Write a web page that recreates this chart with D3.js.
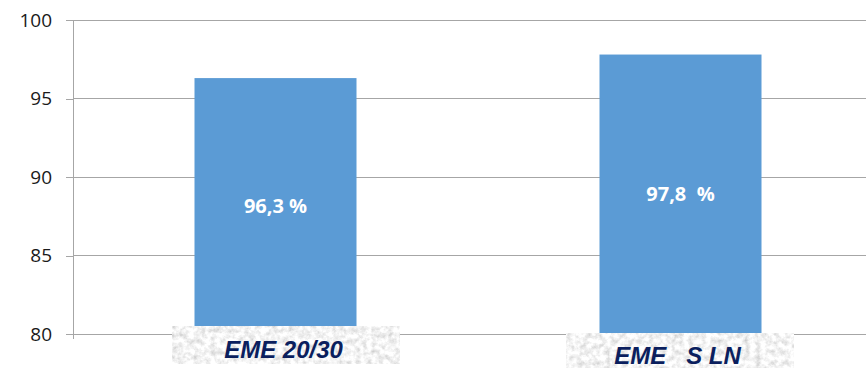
<!DOCTYPE html>
<html>
<head>
<meta charset="utf-8">
<script src="https://cdn.jsdelivr.net/npm/d3@7/dist/d3.min.js"></script>
<style>
  html, body { margin: 0; padding: 0; background: #fff; }
  svg { display: block; }
</style>
</head>
<body>
<svg id="chart" width="866" height="368"></svg>
<script>
// Chart data
const categories = ["EME 20/30", "EME\u00a0\u00a0\u00a0S LN"];
const values = [96.3, 97.8];
const valueLabels = ["96,3 %", "97,8\u00a0\u00a0%"];
const yTicks = [80, 85, 90, 95, 100];

const svg = d3.select("#chart");

const x = d3.scaleBand()
  .domain(categories)
  .range([73, 883])
  .paddingInner(0.6)
  .paddingOuter(0.3);

const y = d3.scaleLinear()
  .domain([80, 100])
  .range([334, 20]);

// Granite-like texture for the category tags
const defs = svg.append("defs");
const f = defs.append("filter")
  .attr("id", "granite")
  .attr("x", 0).attr("y", 0).attr("width", 1).attr("height", 1);
f.append("feTurbulence")
  .attr("type", "fractalNoise")
  .attr("baseFrequency", 0.18)
  .attr("numOctaves", 4)
  .attr("seed", 11)
  .attr("result", "noise");
f.append("feColorMatrix")
  .attr("in", "noise")
  .attr("type", "matrix")
  .attr("values", "0.7 0 0 0 0.55  0.7 0 0 0 0.55  0.7 0 0 0 0.55  0 0 0 0 1")
  .attr("result", "grey");
f.append("feColorMatrix")
  .attr("in", "grey")
  .attr("type", "saturate")
  .attr("values", 0);

// Gridlines
svg.append("g")
  .selectAll("line")
  .data(yTicks)
  .join("line")
  .attr("x1", 73).attr("x2", 866)
  .attr("y1", d => y(d)).attr("y2", d => y(d))
  .attr("stroke", "#a6a6a6")
  .attr("stroke-width", 1)
  .attr("shape-rendering", "crispEdges");

// Y axis
const yAxis = svg.append("g")
  .attr("transform", "translate(73,0)")
  .call(d3.axisLeft(y).tickValues(yTicks).tickSize(7).tickPadding(14).tickFormat(d3.format("d")));
yAxis.select(".domain").attr("stroke", "#a6a6a6").attr("d", `M0,${y(100)}V${y(80) + 5}`);
yAxis.selectAll(".tick line").attr("stroke", "#a6a6a6");
yAxis.selectAll(".tick text")
  .attr("fill", "#1a1a1a")
  .style("font-family", "'Open Sans', 'Liberation Sans', sans-serif")
  .style("font-size", "19px");
yAxis.attr("shape-rendering", "crispEdges");

// Bars
svg.append("g")
  .selectAll("rect")
  .data(values)
  .join("rect")
  .attr("x", (d, i) => x(categories[i]))
  .attr("width", x.bandwidth())
  .attr("y", d => y(d))
  .attr("height", d => y(80) - y(d))
  .attr("fill", "#5b9bd5");

// Value labels centered in the bars
svg.append("g")
  .selectAll("text")
  .data(values)
  .join("text")
  .attr("x", (d, i) => x(categories[i]) + x.bandwidth() / 2)
  .attr("y", d => (y(d) + y(80)) / 2 + 7)
  .attr("text-anchor", "middle")
  .attr("fill", "#ffffff")
  .style("font-family", "'Open Sans', 'Liberation Sans', sans-serif")
  .style("font-weight", "bold")
  .style("font-size", "20px")
  .text((d, i) => valueLabels[i]);

// Category tags
const tagOffsets = [{ dx: -103, top: 326, h: 38, base: 358 }, { dx: -114, top: 333, h: 36, base: 364 }];
const tags = svg.append("g")
  .selectAll("g")
  .data(categories)
  .join("g");
tags.append("rect")
  .attr("x", (d, i) => x(d) + x.bandwidth() / 2 + tagOffsets[i].dx)
  .attr("y", (d, i) => tagOffsets[i].top)
  .attr("width", 227)
  .attr("height", (d, i) => tagOffsets[i].h)
  .attr("fill", "#d9d9d9")
  .attr("filter", "url(#granite)");
tags.append("text")
  .attr("x", (d, i) => x(d) + x.bandwidth() / 2 + tagOffsets[i].dx + 111)
  .attr("y", (d, i) => tagOffsets[i].base)
  .attr("text-anchor", "middle")
  .attr("fill", "#0b1f5e")
  .style("font-family", "'Liberation Sans', Arial, sans-serif")
  .style("font-weight", "bold")
  .style("font-style", "italic")
  .style("font-size", "24px")
  .text(d => d);
</script>
</body>
</html>
